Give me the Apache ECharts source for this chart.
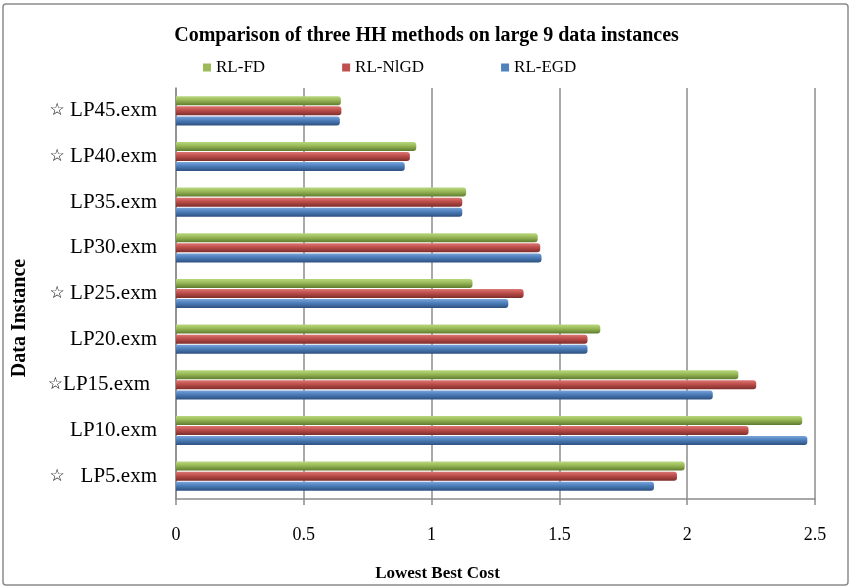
<!DOCTYPE html>
<html>
<head>
<meta charset="utf-8">
<script src="https://cdn.jsdelivr.net/npm/echarts@6/dist/echarts.min.js"></script>
<style>
  html, body { margin: 0; padding: 0; background: #fff; }
  #chart { width: 853px; height: 587px; }
</style>
</head>
<body>
<div id="chart"></div>
<script>
// data instances, bottom to top
const instances = ['LP5.exm', 'LP10.exm', 'LP15.exm', 'LP20.exm', 'LP25.exm', 'LP30.exm', 'LP35.exm', 'LP40.exm', 'LP45.exm'];
const starred = [true, false, true, false, true, false, false, true, true];

// lowest best cost per method
const rlFD   = [1.99, 2.45, 2.20, 1.66, 1.16, 1.415, 1.135, 0.94, 0.645];
const rlNlGD = [1.96, 2.24, 2.27, 1.61, 1.36, 1.425, 1.12, 0.915, 0.647];
const rlEGD  = [1.87, 2.47, 2.10, 1.61, 1.30, 1.43, 1.12, 0.895, 0.641];

const xTicks = [0, 0.5, 1, 1.5, 2, 2.5];

const serif = '"Liberation Serif", "Times New Roman", serif';

// flat colour for legend, shaded cylinder for bars
function cylinder(light, mid, dark) {
    return new echarts.graphic.LinearGradient(0, 0, 0, 1, [
        { offset: 0, color: light },
        { offset: 0.4, color: mid },
        { offset: 1, color: dark }
    ]);
}

const methods = [
    { name: 'RL-FD', data: rlFD, flat: '#9bbb59', fill: cylinder('#b9d87f', '#9bbb59', '#5f7b2e') },
    { name: 'RL-NlGD', data: rlNlGD, flat: '#c0504d', fill: cylinder('#dc7774', '#c0504d', '#7d2d2b') },
    { name: 'RL-EGD', data: rlEGD, flat: '#4f81bd', fill: cylinder('#7ba4da', '#4f81bd', '#2d5080') }
];

const legendText = { fontFamily: serif, fontSize: 17, color: '#000' };

const chart = echarts.init(document.getElementById('chart'));

chart.setOption({
    backgroundColor: '#fff',
    animation: false,
    title: {
        text: 'Comparison of three HH methods on large 9 data instances',
        left: 'center',
        top: 21,
        textStyle: { fontFamily: serif, fontSize: 20, fontWeight: 'bold', color: '#000' }
    },
    legend: {
        left: 203,
        top: 59,
        padding: 0,
        icon: 'rect',
        itemWidth: 8,
        itemHeight: 8,
        itemGap: 77,
        textStyle: legendText,
        data: methods.map(m => ({ name: m.name, itemStyle: { color: m.flat }, textStyle: legendText }))
    },
    grid: { left: 176, right: 38, top: 88, bottom: 88, containLabel: false },
    xAxis: {
        type: 'value',
        min: 0,
        max: 2.5,
        interval: 0.5,
        name: 'Lowest Best Cost',
        nameLocation: 'middle',
        nameGap: 66,
        nameTextStyle: { fontFamily: serif, fontSize: 17, fontWeight: 'bold', color: '#000', padding: [0, 116, 0, 0] },
        axisLine: { show: true, lineStyle: { color: '#8c8c8c', width: 1.5 } },
        axisTick: { show: true, length: 6, lineStyle: { color: '#8c8c8c', width: 1.5 } },
        axisLabel: {
            fontFamily: serif, fontSize: 18, color: '#000', margin: 27,
            formatter: v => xTicks.includes(v) ? String(v) : ''
        },
        splitLine: { show: true, lineStyle: { color: '#8c8c8c', width: 1.5 } }
    },
    yAxis: {
        type: 'category',
        data: instances,
        axisLine: { show: true, lineStyle: { color: '#8c8c8c', width: 1.5 } },
        axisTick: { show: false },
        axisLabel: {
            margin: 19,
            fontFamily: serif,
            fontSize: 21,
            color: '#000',
            formatter: (v, i) => {
                if (!starred[i]) return v;
                if (v === 'LP5.exm') return '{s|☆}   ' + v;
                if (v === 'LP15.exm') return '{s|☆}{t|' + v + '}';
                return '{s|☆} ' + v;
            },
            rich: {
                s: { fontFamily: 'DejaVu Sans', fontSize: 17, color: '#000' },
                t: { fontFamily: serif, fontSize: 21, color: '#000', padding: [0, 7, 0, 0] }
            }
        }
    },
    graphic: [
        {
            type: 'rect',
            shape: { x: 3, y: 4, width: 845, height: 581, r: 3 },
            style: { fill: 'none', stroke: '#8c8c8c', lineWidth: 1.5 },
            silent: true
        },
        {
            type: 'text',
            x: 20,
            y: 318,
            rotation: Math.PI / 2,
            style: {
                text: 'Data Instance',
                fontFamily: serif,
                fontSize: 20,
                fontWeight: 'bold',
                fill: '#000',
                align: 'center',
                verticalAlign: 'middle'
            }
        }
    ],
    series: methods.map(m => ({
        name: m.name,
        type: 'bar',
        data: m.data,
        barWidth: 9,
        barGap: '12%',
        itemStyle: { color: m.fill, borderRadius: [0, 3, 3, 0] }
    }))
});
</script>
</body>
</html>
